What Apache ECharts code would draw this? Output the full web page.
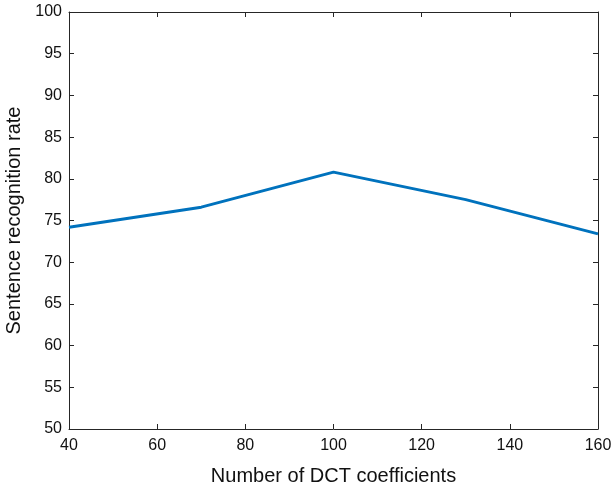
<!DOCTYPE html>
<html>
<head>
<meta charset="utf-8">
<script src="https://cdn.jsdelivr.net/npm/echarts@6/dist/echarts.min.js"></script>
<style>
  html, body { margin: 0; padding: 0; background: #fff; }
  #chart { width: 612px; height: 490px; }
</style>
</head>
<body>
<div id="chart"></div>
<script>
// Number of DCT coefficients vs. sentence recognition rate
const coefficients = [40, 70, 100, 130, 160];
const recognitionRate = [74.2, 76.6, 80.8, 77.5, 73.4];
const xTicks = { min: 40, max: 160, step: 20 };
const yTicks = { min: 50, max: 100, step: 5 };

const font = 'Liberation Sans, Arial, sans-serif';
const axisColor = '#262626';

const chart = echarts.init(document.getElementById('chart'), null, { renderer: 'canvas' });

function boxAxis(range, position, showLabels, margin) {
  return {
    type: 'value',
    position: position,
    min: range.min,
    max: range.max,
    interval: range.step,
    splitLine: { show: false },
    axisLine: { show: true, onZero: false, lineStyle: { color: axisColor, width: 1 } },
    axisTick: { show: true, inside: true, length: 5, lineStyle: { color: axisColor, width: 1 } },
    axisLabel: {
      show: showLabels,
      color: '#111',
      fontFamily: font,
      fontSize: 16,
      margin: margin || 7
    }
  };
}

const xBottom = boxAxis(xTicks, 'bottom', true, 9);
xBottom.name = 'Number of DCT coefficients';
xBottom.nameLocation = 'middle';
xBottom.nameGap = 37;
xBottom.nameTextStyle = { color: '#111', fontFamily: font, fontSize: 20 };

const yLeft = boxAxis(yTicks, 'left', true, 7);
yLeft.name = 'Sentence recognition rate';
yLeft.nameLocation = 'middle';
yLeft.nameGap = 34;
yLeft.nameTextStyle = { color: '#111', fontFamily: font, fontSize: 20 };

chart.setOption({
  animation: false,
  backgroundColor: '#fff',
  grid: { left: 69, right: 14, top: 12, bottom: 61, containLabel: false, outerBoundsMode: 'none' },
  xAxis: [xBottom, boxAxis(xTicks, 'top', false)],
  yAxis: [yLeft, boxAxis(yTicks, 'right', false)],
  series: [{
    type: 'line',
    xAxisIndex: 0,
    yAxisIndex: 0,
    data: coefficients.map((c, i) => [c, recognitionRate[i]]),
    showSymbol: false,
    lineStyle: { color: '#0072BD', width: 3 },
    itemStyle: { color: '#0072BD' }
  }]
});
</script>
</body>
</html>
